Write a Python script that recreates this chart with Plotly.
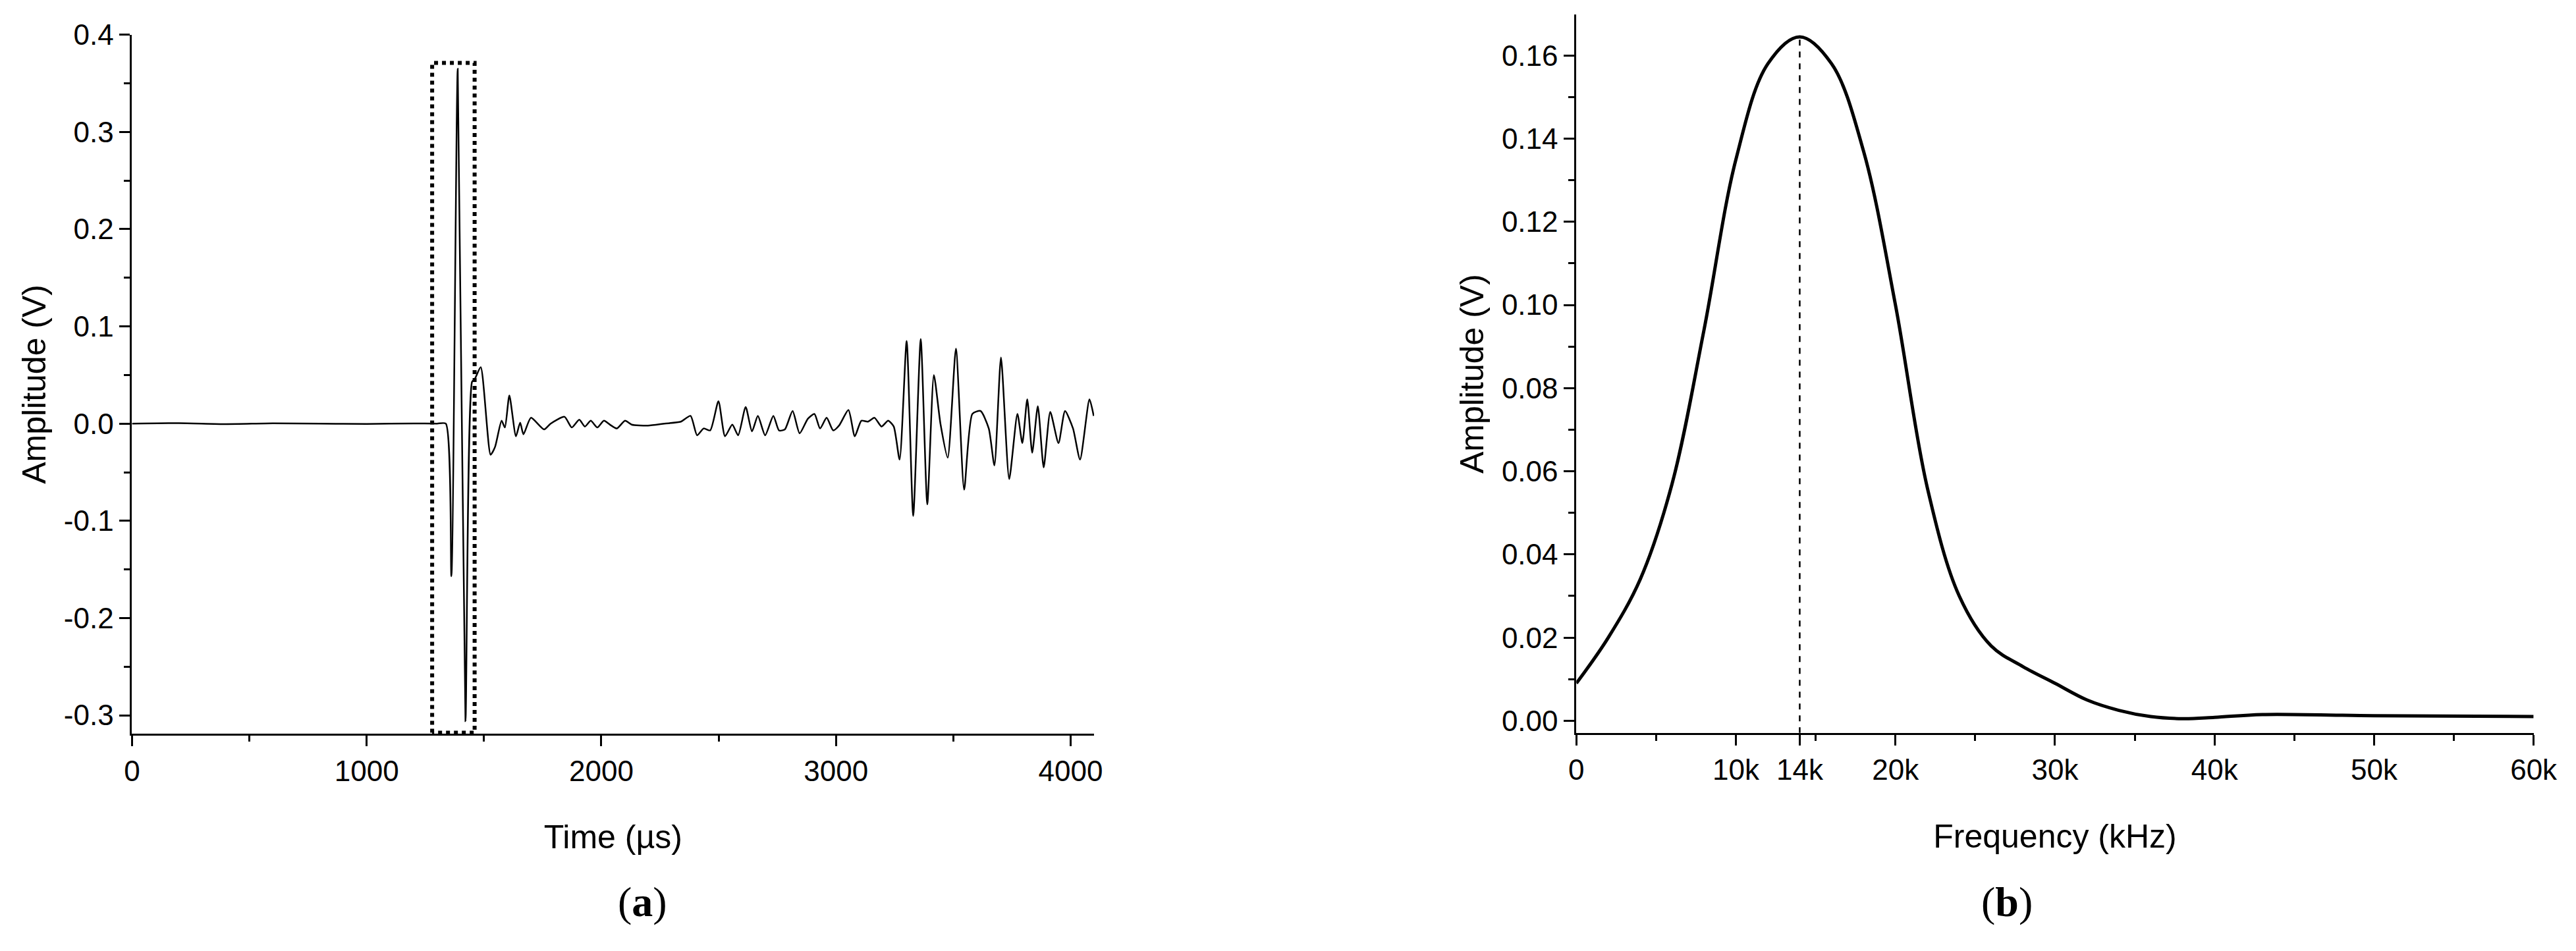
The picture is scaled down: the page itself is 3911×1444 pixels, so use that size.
import plotly.graph_objects as go

# Time signal (µs, V)
t_us = [0, 200, 400, 600, 800, 1000, 1200, 1300, 1337, 1361, 1388, 1421, 1449, 1461, 1486, 1528, 1547, 1575, 1589, 1608,
        1636, 1654, 1668, 1700, 1756, 1784, 1843, 1874, 1906, 1930, 1955, 1983, 2011, 2042, 2066, 2101, 2129, 2199, 2269,
        2339, 2380, 2408, 2436, 2464, 2499, 2527, 2558, 2583, 2615, 2642, 2667, 2698, 2733, 2757, 2782, 2815, 2845, 2880,
        2908, 2932, 2960, 2988, 3013, 3053, 3080, 3108, 3136, 3164, 3194, 3222, 3246, 3271, 3301, 3329, 3361, 3389, 3417,
        3445, 3476, 3511, 3546, 3581, 3616, 3651, 3675, 3703, 3738, 3773, 3794, 3815, 3836, 3860, 3885, 3913, 3948, 3976,
        4010, 4040, 4080, 4098]
amp_v = [0, 0.0005, -0.0005, 0.0003, 0, -0.0003, 0.0002, 0, 0, -0.157, 0.365, -0.306, 0.043, 0.046, 0.058, -0.032, -0.024,
         0.003, -0.004, 0.029, -0.013, 0.001, -0.011, 0.006, -0.006, 0, 0.007, -0.004, 0.004, -0.003, 0.003, -0.004, 0.003,
         -0.002, -0.005, 0.003, -0.001, -0.002, 0, 0.002, 0.008, -0.012, -0.005, -0.007, 0.023, -0.013, -0.001, -0.012,
         0.017, -0.008, 0.008, -0.012, 0.008, -0.007, -0.006, 0.013, -0.01, 0.005, 0.01, -0.005, 0.006, -0.007, -0.002,
         0.014, -0.013, 0.003, 0.002, 0.006, -0.003, 0.003, -0.003, -0.037, 0.085, -0.095, 0.087, -0.083, 0.05, 0.0,
         -0.035, 0.077, -0.068, 0.01, 0.013, -0.005, -0.043, 0.068, -0.057, 0.01, -0.02, 0.025, -0.03, 0.018, -0.045,
         0.012, -0.02, 0.013, -0.005, -0.037, 0.025, 0.008]

# Spectrum (kHz, V)
f_khz = [0, 2, 4, 6, 8, 10, 12, 14, 16, 18, 20, 22, 24, 26, 28, 30, 32, 34, 36, 38, 40, 43, 50, 60]
spec_v = [0.009, 0.02, 0.034, 0.057, 0.094, 0.135, 0.158, 0.1645, 0.158, 0.137, 0.10, 0.056, 0.03, 0.018, 0.013, 0.009,
          0.005, 0.0025, 0.001, 0.0005, 0.0008, 0.0015, 0.0012, 0.001]
peak_f = 14
peak_v = 0.1645
box_t = [1279, 1460]
box_top = 0.371

ty_vals = [-0.3, -0.2, -0.1, 0, 0.1, 0.2, 0.3, 0.4]
ty_text = ["-0.3", "-0.2", "-0.1", "0.0", "0.1", "0.2", "0.3", "0.4"]
fx_ticks = [0, 10, 14, 20, 30, 40, 50, 60]
fx_text = ["0", "10k", "14k", "20k", "30k", "40k", "50k", "60k"]

FONT = "Liberation Sans"
fig = go.Figure()
fig.add_trace(go.Scatter(x=t_us, y=amp_v, mode="lines", line=dict(color="black", width=2.5, shape="spline", smoothing=0.6),
                         xaxis="x", yaxis="y", showlegend=False))
fig.add_trace(go.Scatter(x=[box_t[0], box_t[0], box_t[1], box_t[1], box_t[0]], y=[-0.318, box_top, box_top, -0.318, -0.318],
                         mode="lines", line=dict(color="black", width=6, dash="dot"), xaxis="x", yaxis="y", showlegend=False))
fig.add_trace(go.Scatter(x=f_khz, y=spec_v, mode="lines", line=dict(color="black", width=5, shape="spline"),
                         xaxis="x2", yaxis="y2", showlegend=False))
fig.add_trace(go.Scatter(x=[peak_f, peak_f], y=[-0.003, peak_v], mode="lines", line=dict(color="black", width=2.5, dash="dash"),
                         xaxis="x2", yaxis="y2", showlegend=False))

mn = dict(ticks="outside", ticklen=9, tickwidth=3, tickcolor="black")
ax = dict(showline=True, linecolor="black", linewidth=3, ticks="outside", ticklen=16, tickwidth=3, tickcolor="black",
          showgrid=False, zeroline=False, tickfont=dict(family=FONT, size=44, color="black"),
          title_font=dict(family=FONT, size=50, color="black"), mirror=False, automargin=False)
fig.update_layout(
    width=3911, height=1444, paper_bgcolor="white", plot_bgcolor="white", margin=dict(l=0, r=0, t=0, b=0),
    xaxis=dict(ax, domain=[0.0492, 0.4227], range=[0, 4100], tickvals=[0, 1000, 2000, 3000, 4000],
               minor=dict(mn, dtick=500), title=dict(text="Time (µs)", standoff=60), anchor="y"),
    yaxis=dict(ax, domain=[0.234, 0.969], range=[-0.319, 0.4], tickvals=ty_vals, ticktext=ty_text,
               minor=dict(mn, dtick=0.05), title=dict(text="Amplitude (V)", standoff=12), anchor="x"),
    xaxis2=dict(ax, domain=[0.6099, 0.9815], range=[0, 60], tickvals=fx_ticks, ticktext=fx_text,
                minor=dict(mn, dtick=5), title=dict(text="Frequency (kHz)", standoff=60), anchor="y2"),
    yaxis2=dict(ax, domain=[0.235, 0.990], range=[-0.0029, 0.1698], dtick=0.02, tick0=0, tickformat=".2f",
                minor=dict(mn, dtick=0.01), title=dict(text="Amplitude (V)", standoff=12), anchor="x2"),
    annotations=[
        dict(text="(<b>a</b>)", x=372 / 1568, y=1 - 561 / 579, xref="paper", yref="paper", showarrow=False,
             font=dict(family="Liberation Serif", size=64, color="black")),
        dict(text="(<b>b</b>)", x=1235 / 1568, y=1 - 561 / 579, xref="paper", yref="paper", showarrow=False,
             font=dict(family="Liberation Serif", size=64, color="black")),
    ],
)
fig.write_html("out.html")
